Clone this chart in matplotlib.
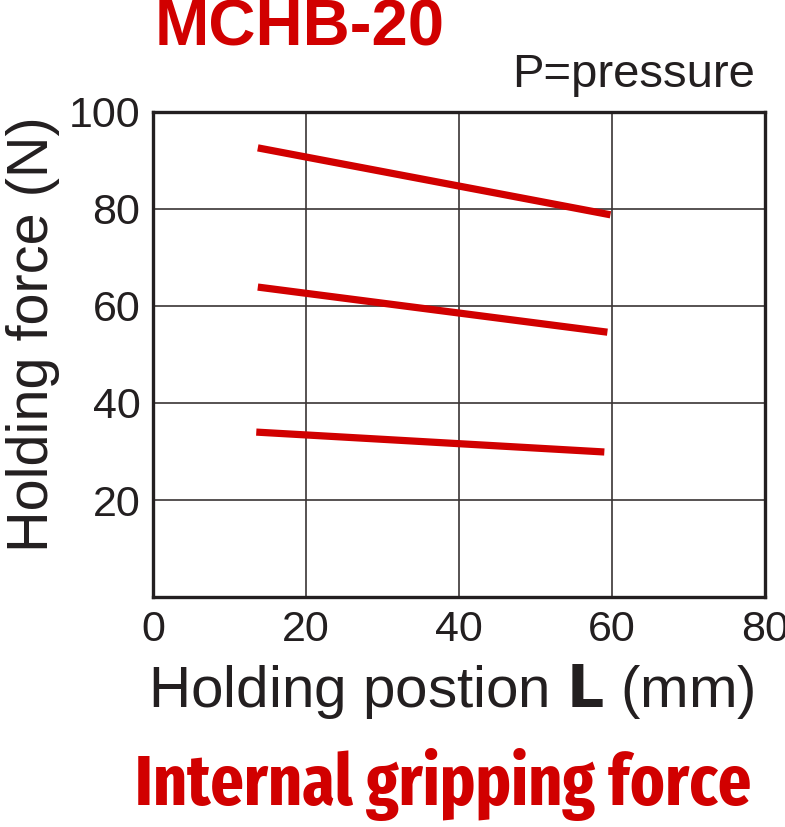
import matplotlib.pyplot as plt
from matplotlib import font_manager

# holding position L (mm) and holding force (N), three pressure curves
pos_high = [13.7, 59.8]
pos_mid = [13.7, 59.4]
pos_low = [13.5, 59.0]
force_high = [92.6, 78.8]
force_mid = [63.9, 54.6]
force_low = [34.0, 29.9]
xticks = [0, 20, 40, 60, 80]
yticks = [20, 40, 60, 80, 100]

names = {f.name for f in font_manager.fontManager.ttflist}
narrow = 'Liberation Sans'
for cand in ['Liberation Sans Narrow', 'Arial Narrow', 'Fira Sans Extra Condensed',
             'Sofia Sans Extra Condensed', 'Roboto Condensed', 'Archivo Narrow',
             'PT Sans Narrow']:
    if cand in names:
        narrow = cand
        break
plt.rcParams['font.family'] = 'Liberation Sans'

red = '#d10000'
ink = '#231f20'

fig = plt.figure(figsize=(7.85, 8.27), dpi=100)
ax = fig.add_axes([0.1949, 0.2781, 0.7796, 0.5865])

for xs, ys in [(pos_high, force_high), (pos_mid, force_mid), (pos_low, force_low)]:
    ax.plot(xs, ys, color=red, lw=5.2, solid_capstyle='butt', zorder=3)

ax.set_xlim(0, 80)
ax.set_ylim(0, 100)
ax.set_xticks(xticks)
ax.set_yticks(yticks)
ax.grid(True, color='#3a3535', lw=1.2)
ax.tick_params(length=0, labelsize=31, colors=ink, pad=9)
for s in ax.spines.values():
    s.set_linewidth(2.4)
    s.set_color(ink)

ax.set_xlabel('Holding postion $\\mathbf{L}$ (mm)', fontsize=42, color=ink)
ax.xaxis.set_label_coords(0.487, -0.135)
ax.set_ylabel('Holding force (N)', fontsize=41.5, color=ink)
ax.yaxis.set_label_coords(-0.152, 0.542)

fig.text(155 / 785, 1 - 45 / 827, 'MCHB-20', fontsize=47, fontweight='bold',
         color=red, ha='left', va='baseline')
fig.text(755 / 785, 1 - 75 / 827, 'P=pressure', fontsize=34, color=ink,
         ha='right', va='center')
big = fig.text(443 / 785, 1 - 805 / 827, 'Internal gripping force', fontsize=72,
               fontweight='bold', family=narrow, color=red, ha='center', va='baseline')

# fit the condensed caption to the reference width
fig.canvas.draw()
w = big.get_window_extent(fig.canvas.get_renderer()).width
big.set_fontsize(min(72, 72 * 617 / w))

fig.savefig('out.png', dpi=100)
